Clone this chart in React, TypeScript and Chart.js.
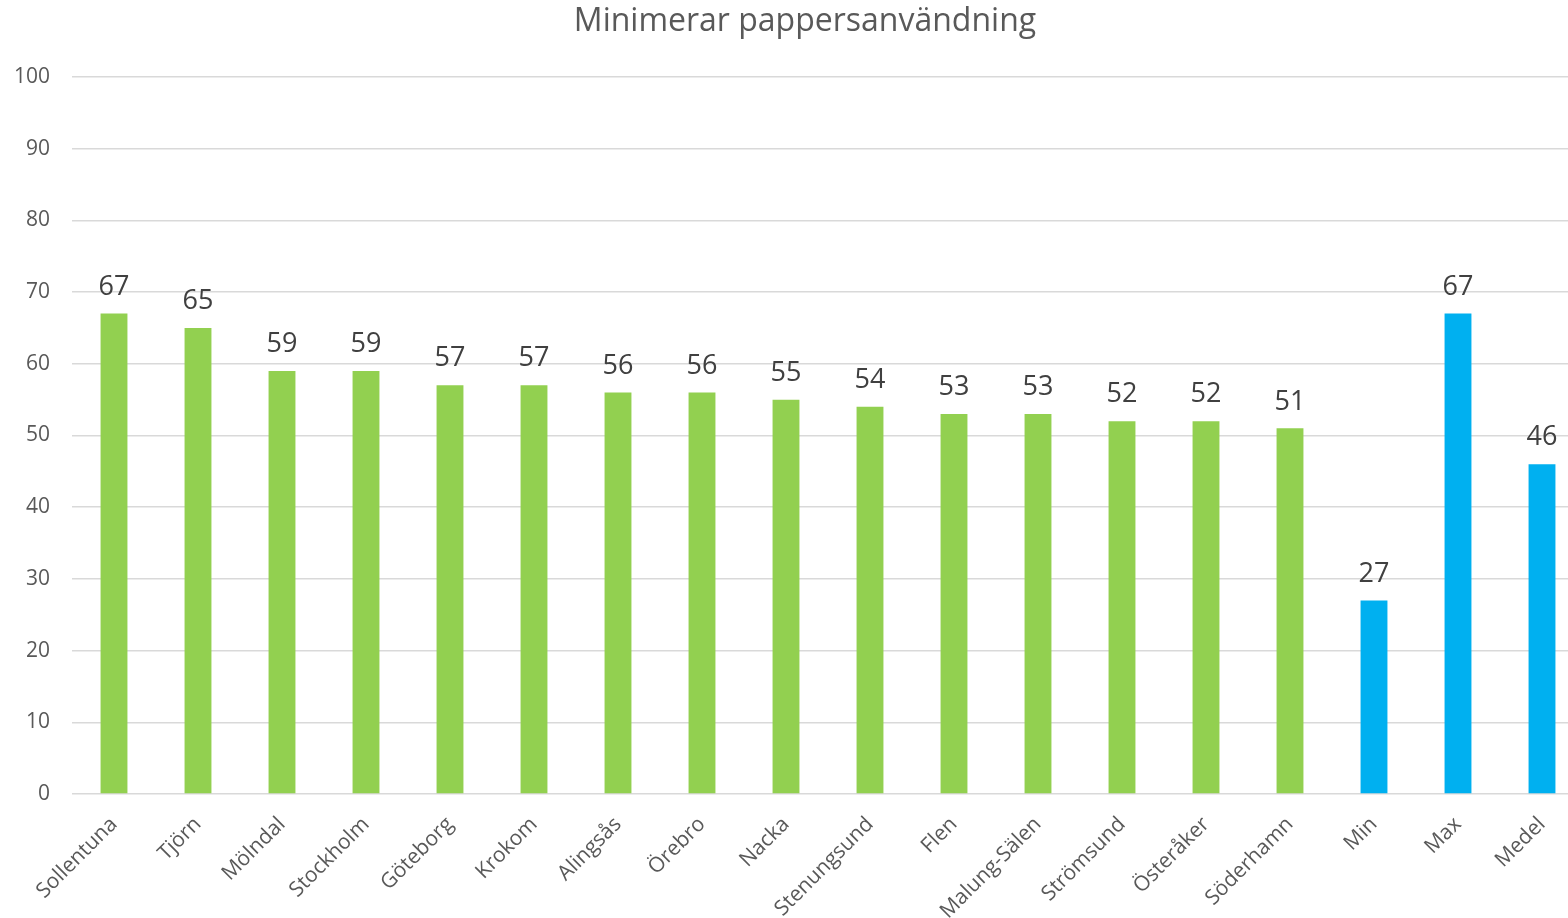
import React, { useEffect, useRef } from "react";
import { Chart, registerables } from "chart.js";

Chart.register(...registerables);

const title = "Minimerar pappersanvändning";
const categories = [
  "Sollentuna", "Tjörn", "Mölndal", "Stockholm", "Göteborg", "Krokom", "Alingsås", "Örebro",
  "Nacka", "Stenungsund", "Flen", "Malung-Sälen", "Strömsund", "Österåker", "Söderhamn",
  "Min", "Max", "Medel",
];
const values = [67, 65, 59, 59, 57, 57, 56, 56, 55, 54, 53, 53, 52, 52, 51, 27, 67, 46];
const summaryCategories = ["Min", "Max", "Medel"];
const yTicks = [0, 10, 20, 30, 40, 50, 60, 70, 80, 90, 100];

const GREEN = "#92D050";
const BLUE = "#00B0F0";
const FONT = "'Open Sans', sans-serif";

const dataLabels = {
  id: "dataLabels",
  afterDatasetsDraw(chart: any) {
    const ctx = chart.ctx;
    const meta = chart.getDatasetMeta(0);
    ctx.save();
    ctx.font = `27px ${FONT}`;
    ctx.fillStyle = "#404040";
    ctx.textAlign = "center";
    ctx.textBaseline = "bottom";
    meta.data.forEach((el: any, i: number) => {
      ctx.fillText(String(values[i]), el.x, el.y - 13);
    });
    ctx.restore();
  },
};

const titlePlugin = {
  id: "customTitle",
  afterDraw(chart: any) {
    const ctx = chart.ctx;
    ctx.save();
    ctx.font = `32px ${FONT}`;
    ctx.fillStyle = "#595959";
    ctx.textAlign = "center";
    ctx.textBaseline = "middle";
    ctx.fillText(title, 805, 22);
    ctx.restore();
  },
};

export default function App() {
  const ref = useRef<HTMLCanvasElement | null>(null);
  useEffect(() => {
    document.body.style.margin = "0";
    document.body.style.overflow = "hidden";
    const chart = new Chart(ref.current!, {
      type: "bar",
      data: {
        labels: categories,
        datasets: [
          {
            data: values,
            backgroundColor: categories.map((c) => (summaryCategories.includes(c) ? BLUE : GREEN)),
            barPercentage: 0.32,
            categoryPercentage: 1,
          },
        ],
      },
      options: {
        animation: false,
        responsive: true,
        maintainAspectRatio: false,
        devicePixelRatio: 1,
        layout: { padding: { left: 0, right: 26, top: 77, bottom: 0 } },
        plugins: {
          legend: { display: false },
          tooltip: { enabled: false },
          title: { display: false },
        },
        scales: {
          x: {
            grid: { display: false },
            border: { display: false },
            ticks: {
              color: "#595959",
              font: { family: FONT, size: 21 },
              maxRotation: 45,
              minRotation: 45,
              autoSkip: false,
              padding: 10,
            },
            afterFit(scale: any) {
              scale.height = 124;
            },
          },
          y: {
            min: 0,
            max: 100,
            afterBuildTicks(scale: any) {
              scale.ticks = yTicks.map((v) => ({ value: v }));
            },
            grid: { color: "#d9d9d9", lineWidth: 1.5, drawTicks: false },
            border: { display: false },
            ticks: {
              color: "#595959",
              font: { family: FONT, size: 21 },
              padding: 22,
            },
            afterFit(scale: any) {
              scale.width = 72;
            },
          },
        },
      },
      plugins: [dataLabels, titlePlugin],
    });
    return () => chart.destroy();
  }, []);
  return (
    <div style={{ position: "fixed", left: 0, top: 0, width: 1568, height: 918, overflow: "hidden", background: "#fff" }}>
      <div style={{ position: "relative", width: 1610, height: 918 }}>
        <canvas ref={ref} />
      </div>
    </div>
  );
}
